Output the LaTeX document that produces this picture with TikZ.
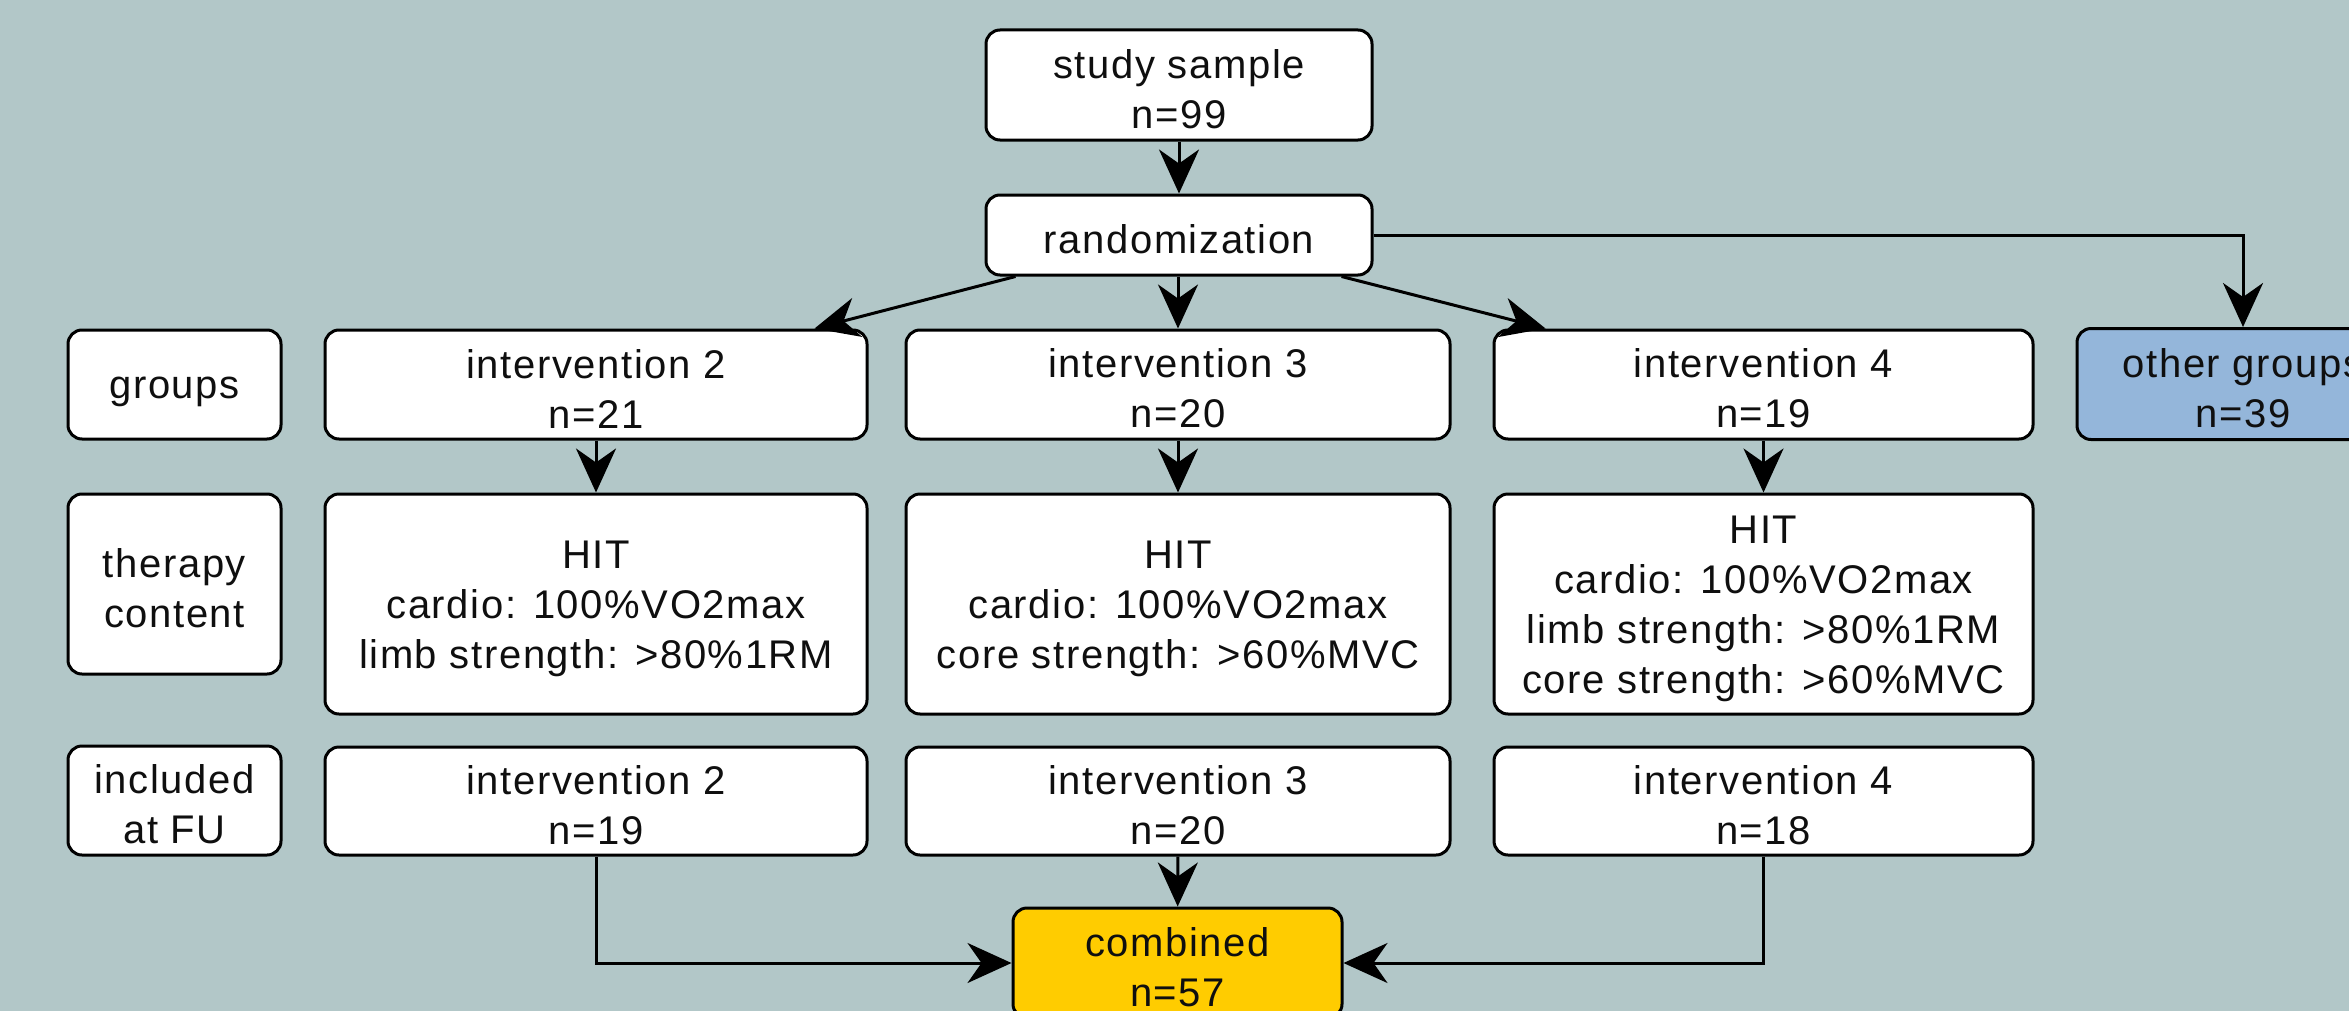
\documentclass[tikz,border=0pt]{standalone}
\usepackage{fontspec}
\setmainfont{Liberation Sans}[LetterSpace=4]
\usetikzlibrary{arrows.meta,calc}

\definecolor{bgteal}{RGB}{178,199,200}
\definecolor{othblue}{RGB}{148,182,218}
\definecolor{combyellow}{RGB}{255,204,0}
\definecolor{ink}{RGB}{15,15,15}

% invisible strut that gives the first text line a little more room above
\newcommand\topstrut{\rule{0pt}{18.5pt}}

\begin{document}
\begin{tikzpicture}[x=0.5pt,y=-0.5pt,
  box/.style={draw=black, line width=1.5pt, rounded corners=7pt, fill=white,
    align=center, inner sep=0pt, text=ink,
    font=\fontsize{20}{25}\selectfont},
  wh/.style 2 args={minimum width={#1*0.5pt}, minimum height={#2*0.5pt}},
  conn/.style={draw=black, line width=1.5pt,
    -{Stealth[length=22pt,width=20pt,inset=7pt]}},
]
% canvas
\clip (0,0) rectangle (2349,1011);
\useasboundingbox (0,0) rectangle (2349,1011);
\fill[bgteal] (0,0) rectangle (2349,1011);

% top of the flow
\node[box, wh={386}{110}] (study) at (1179,85) {\topstrut study sample\\n=99};
\node[box, wh={386}{80}]  (rand)  at (1179,235) {\topstrut randomization};

% row labels
\node[box, wh={213}{109}] (lgroups)  at (174.5,384.5) {\topstrut groups};
\node[box, wh={213}{180}] (ltherapy) at (174.5,584)   {\topstrut therapy\\content};
\node[box, wh={213}{109}] (lfu)      at (174.5,800.5) {\topstrut included\\at FU};

% groups
\node[box, wh={542}{109}] (g2) at (596,384.5)    {\topstrut intervention 2\\n=21};
\node[box, wh={544}{109}] (g3) at (1178,384.5)   {\topstrut intervention 3\\n=20};
\node[box, wh={539}{109}] (g4) at (1763.5,384.5) {\topstrut intervention 4\\n=19};
\node[box, fill=othblue, wh={332}{111}] (other) at (2243,384) {\topstrut other groups\\n=39};

% therapy content
\node[box, wh={542}{220}] (t2) at (596,604)
  {\topstrut HIT\\cardio: 100\%VO2max\\limb strength: >80\%1RM};
\node[box, wh={544}{220}] (t3) at (1178,604)
  {\topstrut HIT\\cardio: 100\%VO2max\\core strength: >60\%MVC};
\node[box, wh={539}{220}] (t4) at (1763.5,604)
  {\topstrut HIT\\cardio: 100\%VO2max\\limb strength: >80\%1RM\\core strength: >60\%MVC};

% follow-up
\node[box, wh={542}{108}] (f2) at (596,801)    {\topstrut intervention 2\\n=19};
\node[box, wh={544}{108}] (f3) at (1178,801)   {\topstrut intervention 3\\n=20};
\node[box, wh={539}{108}] (f4) at (1763.5,801) {\topstrut intervention 4\\n=18};

\node[box, fill=combyellow, wh={329}{110}] (comb) at (1177.5,963) {\topstrut combined\\n=57};

% connectors
\draw[conn] (study) -- (rand);
\draw[conn] (g3.north |- rand.south) -- (g3.north);
\draw[conn] ($(rand.south west)+(31,0)$) -- ($(g2.north east)+(-54,0)$);
\draw[conn] ($(rand.south east)+(-32,0)$) -- ($(g4.north west)+(53,0)$);
\draw[conn] (rand.east) -| (other.north);

\draw[conn] (g2) -- (t2);
\draw[conn] (g3) -- (t3);
\draw[conn] (g4) -- (t4);

\draw[conn] (f3) -- (comb);
\draw[conn] (f2.south) |- (comb.west);
\draw[conn] (f4.south) |- (comb.east);
\end{tikzpicture}
\end{document}
